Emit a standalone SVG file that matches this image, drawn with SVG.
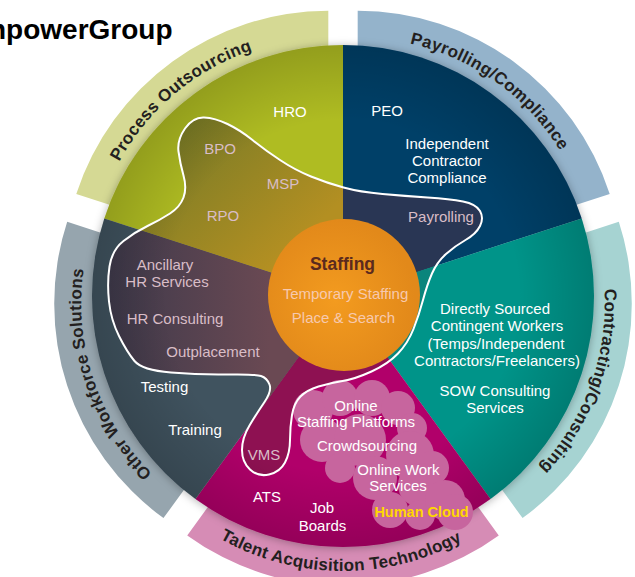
<svg xmlns="http://www.w3.org/2000/svg" width="635" height="577" viewBox="0 0 635 577">
  <defs>
    <style>
      .lbl{font-family:"Liberation Sans",Arial,sans-serif;font-size:15px;text-anchor:middle;fill:#ffffff}
      .soft{fill:#d9bdc7}
      .ring-lbl{font-family:"Liberation Sans",Arial,sans-serif;font-size:17px;font-weight:bold;fill:#231f20;letter-spacing:0.3px}
      .title{font-family:"Liberation Sans",Arial,sans-serif;font-size:28px;font-weight:bold;fill:#000000}
      .outline{fill:none;stroke:#ffffff;stroke-width:2;stroke-linejoin:round}
    </style>

    <!-- soft shadow cast by the inner wheel onto the outer bands -->
    <filter id="edgeShadow" x="-10%" y="-10%" width="120%" height="120%">
      <feGaussianBlur in="SourceAlpha" stdDeviation="4"/>
      <feOffset dx="0" dy="1" result="blur"/>
      <feFlood flood-color="#000000" flood-opacity="0.3"/>
      <feComposite in2="blur" operator="in"/>
      <feMerge><feMergeNode/><feMergeNode in="SourceGraphic"/></feMerge>
    </filter>

    <radialGradient id="wheelShade" gradientUnits="userSpaceOnUse" cx="343" cy="296" r="251">
      <stop offset="0" stop-color="#000" stop-opacity="0"/>
      <stop offset="0.7" stop-color="#000" stop-opacity="0"/>
      <stop offset="1" stop-color="#000" stop-opacity="0.16"/>
    </radialGradient>

    <radialGradient id="staffFill" gradientUnits="userSpaceOnUse" cx="335" cy="300" r="80">
      <stop offset="0" stop-color="#f39b1f"/>
      <stop offset="1" stop-color="#e2891a"/>
    </radialGradient>

    <linearGradient id="oliveIn" gradientUnits="userSpaceOnUse" x1="190" y1="120" x2="300" y2="240">
      <stop offset="0" stop-color="#7a7c26"/>
      <stop offset="1" stop-color="#b38f22"/>
    </linearGradient>
    <linearGradient id="slateIn" gradientUnits="userSpaceOnUse" x1="110" y1="300" x2="270" y2="300">
      <stop offset="0" stop-color="#3f3a4b"/>
      <stop offset="1" stop-color="#6a4953"/>
    </linearGradient>

    <!-- the enclosed staffing zone -->
    <path id="zone" d="M204,117.5 Q215,118 227.5,124 Q240,130 252.5,140 Q265,150 280,160 Q295,170 311,176.5 Q327,183 343.5,187.5 Q360,192 382.5,194 Q405,196 427.5,197.5 Q450,199 463,201.5 Q476,204 480,211 Q484,218 480,226 Q476,234 465.5,240 Q455,246 446,254 Q437,262 432,273.5 Q427,285 423,300 Q419,315 413.5,329 Q408,343 398,353.5 Q388,364 371.5,371.5 Q355,379 342.5,381 Q330,383 318.5,386.5 Q307,390 300.5,396.5 Q294,403 292,415 Q290,427 290,440 Q290,453 285,462.5 Q280,472 269,474.5 Q258,477 250,469.5 Q242,462 242,450 Q242,438 249.5,425.5 Q257,413 264.5,402 Q272,391 269.5,384.5 Q267,378 261,376 Q255,374 227.5,374.5 Q200,375 171,372.5 Q142,370 134.5,361 Q127,352 119,336 Q111,320 109,301.5 Q107,283 109.5,266.5 Q112,250 123.5,241 Q135,232 147.5,226 Q160,220 170,213.5 Q180,207 183.5,197.5 Q187,188 183.5,175.5 Q180,163 178.5,151.5 Q177,140 185,128.5 Q193,117 204,117.5 Z"/>
    <clipPath id="zoneClip"><use href="#zone"/></clipPath>

    <!-- baselines for the curved band titles (local to each band) -->
    <path id="arcPO" d="M-238,0 A238,238 0 0 1 41.33,-234.38"/>
    <path id="arcPC" d="M-59.59,-230.42 A238,238 0 0 1 237.27,-18.67"/>
    <path id="arcCC" d="M206.11,-119 A238,238 0 0 1 81.40,223.65"/>
    <path id="arcOW" d="M-87.23,221.44 A238,238 0 0 1 -202.93,-124.36"/>
    <path id="arcTA" d="M-192.91,159.02 A250,250 0 0 0 190.10,162.36"/>
  </defs>

  <rect width="635" height="577" fill="#ffffff"/>

  <text class="title" x="-11" y="39">npowerGroup</text>

  <!-- outer bands, each pushed out along its own bisector -->
  <g id="band-process-outsourcing" transform="translate(328.31,275.77)">
    <path d="M-252.03,-81.89 A265,265 0 0 1 0,-265 L0,-200 A200,200 0 0 0 -190.21,-61.80 Z" fill="#d5d994"/>
  </g>
  <g id="band-payrolling" transform="translate(357.69,275.77)">
    <path d="M0,-265 A265,265 0 0 1 252.03,-81.89 L190.21,-61.80 A200,200 0 0 0 0,-200 Z" fill="#94b3cb"/>
  </g>
  <g id="band-contracting" transform="translate(366.78,303.73)">
    <path d="M252.03,-81.89 A265,265 0 0 1 155.76,214.39 L117.56,161.80 A200,200 0 0 0 190.21,-61.80 Z" fill="#a6d3d2"/>
  </g>
  <g id="band-talent" transform="translate(343,321)">
    <path d="M155.76,214.39 A265,265 0 0 1 -155.76,214.39 L-117.56,161.80 A200,200 0 0 0 117.56,161.80 Z" fill="#d68cb5"/>
  </g>
  <g id="band-other" transform="translate(319.22,303.73)">
    <path d="M-155.76,214.39 A265,265 0 0 1 -252.03,-81.89 L-190.21,-61.80 A200,200 0 0 0 -117.56,161.80 Z" fill="#96a5ae"/>
  </g>

  <!-- inner wheel -->
  <g id="wheel" filter="url(#edgeShadow)">
    <path id="sector-process" d="M343,296 L104.28,218.44 A251,251 0 0 1 343,45 Z" fill="#afbc22"/>
    <path id="sector-payrolling" d="M343,296 L343,45 A251,251 0 0 1 581.72,218.44 Z" fill="#004068"/>
    <path id="sector-contracting" d="M343,296 L581.72,218.44 A251,251 0 0 1 490.53,499.06 Z" fill="#009489"/>
    <path id="sector-talent" d="M343,296 L490.53,499.06 A251,251 0 0 1 195.47,499.06 Z" fill="#b1006a"/>
    <path id="sector-other" d="M343,296 L195.47,499.06 A251,251 0 0 1 104.28,218.44 Z" fill="#3f525f"/>
  </g>

  <!-- darker tint inside the staffing zone -->
  <g id="zone-tint" clip-path="url(#zoneClip)">
    <path d="M343,296 L104.28,218.44 A251,251 0 0 1 343,45 Z" fill="url(#oliveIn)"/>
    <path d="M343,296 L343,45 A251,251 0 0 1 581.72,218.44 Z" fill="#293654"/>
    <path d="M343,296 L581.72,218.44 A251,251 0 0 1 490.53,499.06 Z" fill="#0b857c"/>
    <path d="M343,296 L490.53,499.06 A251,251 0 0 1 195.47,499.06 Z" fill="#8e1152"/>
    <path d="M343,296 L195.47,499.06 A251,251 0 0 1 104.28,218.44 Z" fill="url(#slateIn)"/>
  </g>

  <circle cx="343" cy="296" r="251" fill="url(#wheelShade)"/>

  <!-- human cloud -->
  <g id="cloud" fill="#c7659e">
    <circle cx="313" cy="410" r="20"/>
    <circle cx="340" cy="398" r="18"/>
    <circle cx="372" cy="398" r="18"/>
    <circle cx="398" cy="408" r="17"/>
    <circle cx="412" cy="428" r="15"/>
    <circle cx="322" cy="440" r="22"/>
    <circle cx="360" cy="440" r="26"/>
    <circle cx="410" cy="455" r="24"/>
    <circle cx="432" cy="468" r="17"/>
    <circle cx="340" cy="468" r="15"/>
    <circle cx="375" cy="478" r="22"/>
    <circle cx="420" cy="485" r="22"/>
    <circle cx="390" cy="510" r="18"/>
    <circle cx="420" cy="515" r="15"/>
    <circle cx="445" cy="500" r="20"/>
    <circle cx="455" cy="512" r="18"/>
  </g>

  <!-- centre hub -->
  <g id="staffing">
    <circle cx="344" cy="295" r="76" fill="url(#staffFill)"/>
    <text x="342.5" y="270" style="font-family:'Liberation Sans',Arial,sans-serif;font-size:17.5px;font-weight:bold;text-anchor:middle;fill:#5b2a1e">Staffing</text>
    <text class="lbl" x="345.5" y="299" style="fill:#f7c9ae">Temporary Staffing</text>
    <text class="lbl" x="343.5" y="322.5" style="fill:#f7c9ae">Place &amp; Search</text>
  </g>

  <use href="#zone" class="outline"/>

  <!-- band titles -->
  <g id="title-process" transform="translate(328.31,275.77)">
    <text class="ring-lbl"><textPath href="#arcPO" startOffset="50%" text-anchor="middle">Process Outsourcing</textPath></text>
  </g>
  <g id="title-payrolling" transform="translate(357.69,275.77)">
    <text class="ring-lbl"><textPath href="#arcPC" startOffset="50%" text-anchor="middle">Payrolling/Compliance</textPath></text>
  </g>
  <g id="title-contracting" transform="translate(366.78,303.73)">
    <text class="ring-lbl"><textPath href="#arcCC" startOffset="50%" text-anchor="middle">Contracting/Consulting</textPath></text>
  </g>
  <g id="title-talent" transform="translate(343,321)">
    <text class="ring-lbl"><textPath href="#arcTA" startOffset="50%" text-anchor="middle">Talent Acquisition Technology</textPath></text>
  </g>
  <g id="title-other" transform="translate(319.22,303.73)">
    <text class="ring-lbl"><textPath href="#arcOW" startOffset="50%" text-anchor="middle">Other Workforce Solutions</textPath></text>
  </g>

  <!-- sector contents -->
  <g id="process-items">
    <text class="lbl" x="290" y="117">HRO</text>
    <text class="lbl soft" x="220" y="153.5">BPO</text>
    <text class="lbl soft" x="283" y="188.5">MSP</text>
    <text class="lbl soft" x="223" y="220.5">RPO</text>
  </g>
  <g id="payrolling-items">
    <text class="lbl" x="387" y="116">PEO</text>
    <text class="lbl" x="447" y="149">Independent</text>
    <text class="lbl" x="447" y="166">Contractor</text>
    <text class="lbl" x="447" y="183">Compliance</text>
    <text class="lbl soft" x="441" y="222">Payrolling</text>
  </g>
  <g id="contracting-items">
    <text class="lbl" x="495" y="313.5">Directly Sourced</text>
    <text class="lbl" x="497" y="331">Contingent Workers</text>
    <text class="lbl" x="496" y="348.5">(Temps/Independent</text>
    <text class="lbl" x="497" y="366">Contractors/Freelancers)</text>
    <text class="lbl" x="495" y="396">SOW Consulting</text>
    <text class="lbl" x="495" y="413">Services</text>
  </g>
  <g id="talent-items">
    <text class="lbl soft" x="264" y="460">VMS</text>
    <text class="lbl" x="267" y="501.5">ATS</text>
    <text class="lbl" x="322" y="513">Job</text>
    <text class="lbl" x="322.5" y="530.5">Boards</text>
    <text class="lbl" x="356" y="410.5">Online</text>
    <text class="lbl" x="356" y="427">Staffing Platforms</text>
    <text class="lbl" x="367" y="451">Crowdsourcing</text>
    <text class="lbl" x="398.5" y="475">Online Work</text>
    <text class="lbl" x="398" y="491">Services</text>
    <text class="lbl" x="421.5" y="516.5" style="font-weight:bold;font-size:14.5px;fill:#ffd700">Human Cloud</text>
  </g>
  <g id="other-items">
    <text class="lbl soft" x="165" y="270">Ancillary</text>
    <text class="lbl soft" x="167" y="286.5">HR Services</text>
    <text class="lbl soft" x="175" y="324">HR Consulting</text>
    <text class="lbl soft" x="213" y="356.5">Outplacement</text>
    <text class="lbl" x="164.5" y="391.5">Testing</text>
    <text class="lbl" x="195" y="435">Training</text>
  </g>
</svg>
